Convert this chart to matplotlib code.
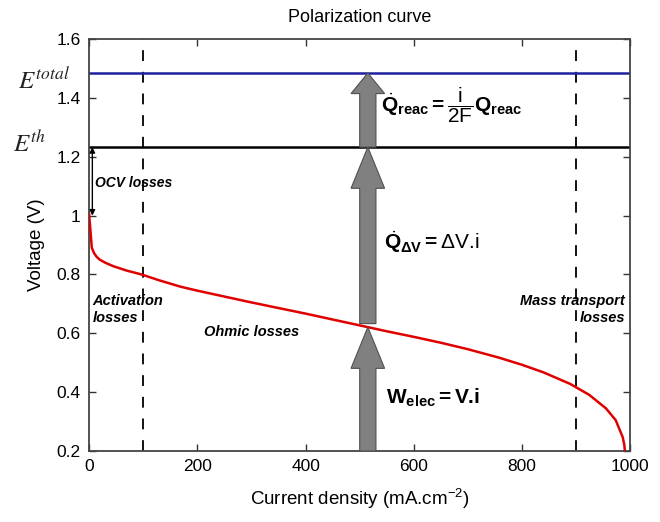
import matplotlib
matplotlib.use("Agg")
import matplotlib.pyplot as plt
from matplotlib.patches import FancyArrow
import numpy as np

plt.rcParams['font.family'] = ['Liberation Sans', 'DejaVu Sans']
plt.rcParams['mathtext.fontset'] = 'custom'
plt.rcParams['mathtext.rm'] = 'Liberation Sans'
plt.rcParams['mathtext.it'] = 'Liberation Sans:italic'
plt.rcParams['mathtext.bf'] = 'Liberation Sans:bold'

# Data
current = [0, 2, 5, 9, 14, 20, 30, 45, 70, 97, 130, 168, 200, 250, 300, 350, 400, 450,
           500, 550, 600, 650, 700, 758, 800, 840, 889, 924, 955, 973, 986, 989, 990]
voltage = [1.005, 0.96, 0.891, 0.873, 0.86, 0.85, 0.84, 0.828, 0.813, 0.800, 0.780,
           0.759, 0.745, 0.725, 0.705, 0.686, 0.667, 0.647, 0.627, 0.607, 0.588, 0.568,
           0.546, 0.517, 0.493, 0.467, 0.428, 0.391, 0.345, 0.305, 0.247, 0.22, 0.2]
E_total = 1.485
E_th = 1.233
region_bounds = [100, 900]
arrow_x = 515
xticks = [0, 200, 400, 600, 800, 1000]
yticks = [0.2, 0.4, 0.6, 0.8, 1.0, 1.2, 1.4, 1.6]
ytick_labels = ['0.2', '0.4', '0.6', '0.8', '1', '1.2', '1.4', '1.6']

fig = plt.figure(figsize=(6.6, 5.22), dpi=100)
ax = fig.add_axes([0.135, 0.136, 0.820, 0.789])
ax.set_xlim(0, 1000)
ax.set_ylim(0.2, 1.6)

# horizontal lines
ax.axhline(E_total, color='#2020a0', lw=1.8, zorder=2)
ax.axhline(E_th, color='black', lw=1.8, zorder=2)
for b in region_bounds:
    ax.axvline(b, color='black', lw=1.3, ls=(0, (6, 6)), zorder=1)

# curve
ax.plot(current, voltage, color='#e00000', lw=1.8, zorder=3)

# arrows
V_at = float(np.interp(arrow_x, current, voltage))
fc, ec = '#808080', '#505050'
def varrow(y0, y1, hl):
    a = FancyArrow(arrow_x, y0, 0, y1 - y0, width=30, head_width=62,
                   head_length=hl, length_includes_head=True,
                   fc=fc, ec=ec, lw=0.8, zorder=4)
    ax.add_patch(a)
varrow(0.2, V_at, 0.14)
varrow(V_at + 0.012, E_th, 0.14)
varrow(E_th, E_total, 0.07)

# OCV double arrow
ax.annotate('', xy=(6, 1.0), xytext=(6, E_th),
            arrowprops=dict(arrowstyle='<|-|>', color='black', lw=1.0,
                            mutation_scale=8, shrinkA=0, shrinkB=0))

# text annotations
ax.text(10, 1.11, 'OCV losses', fontsize=10, fontweight='bold', style='italic',
        va='center', ha='left')
ax.text(6, 0.68, 'Activation\nlosses', fontsize=10.5, fontweight='bold', style='italic',
        va='center', ha='left', linespacing=1.3)
ax.text(212, 0.605, 'Ohmic losses', fontsize=10.5, fontweight='bold', style='italic',
        va='center', ha='left')
ax.text(990, 0.68, 'Mass transport\nlosses', fontsize=10.5, fontweight='bold', style='italic',
        va='center', ha='right', multialignment='right', linespacing=1.3)

ax.text(540, 1.375, r'$\dot{\mathbf{Q}}_{\mathbf{reac}}\mathbf{=}\dfrac{\mathrm{i}}{\mathrm{2F}}\mathbf{Q}_{\mathbf{reac}}$',
        fontsize=15, va='center', ha='left')
ax.text(545, 0.91, r'$\dot{\mathbf{Q}}_{\mathbf{\Delta V}}\mathbf{=}$ΔV.i',
        fontsize=15, va='center', ha='left')
ax.text(548, 0.38, r'$\mathbf{W}_{\mathbf{elec}}\mathbf{=}$V.i',
        fontsize=15, fontweight='bold', va='center', ha='left')

# E labels
ax.text(-0.132, 1.432, r'$E^{total}$', transform=ax.get_yaxis_transform(),
        fontsize=18, math_fontfamily='stix', va='baseline', ha='left', color='#222222')
ax.text(-0.14, 1.218, r'$E^{th}$', transform=ax.get_yaxis_transform(),
        fontsize=18, math_fontfamily='stix', va='baseline', ha='left', color='#222222')

# axes styling
ax.set_xticks(xticks)
ax.set_yticks(yticks)
ax.set_yticklabels(ytick_labels)
ax.tick_params(direction='in', top=True, right=True, length=5, width=1,
               labelsize=12.5, color='#333333', pad=6)
for s in ax.spines.values():
    s.set_color('#444444')
    s.set_linewidth(1.3)
ax.set_xlabel(r'Current density (mA.cm$^{-2}$)', fontsize=13.5, labelpad=9)
ax.set_ylabel('Voltage (V)', fontsize=13.5, labelpad=8)
ax.set_title('Polarization curve', fontsize=13, pad=12)

fig.savefig('out.png', dpi=100)
